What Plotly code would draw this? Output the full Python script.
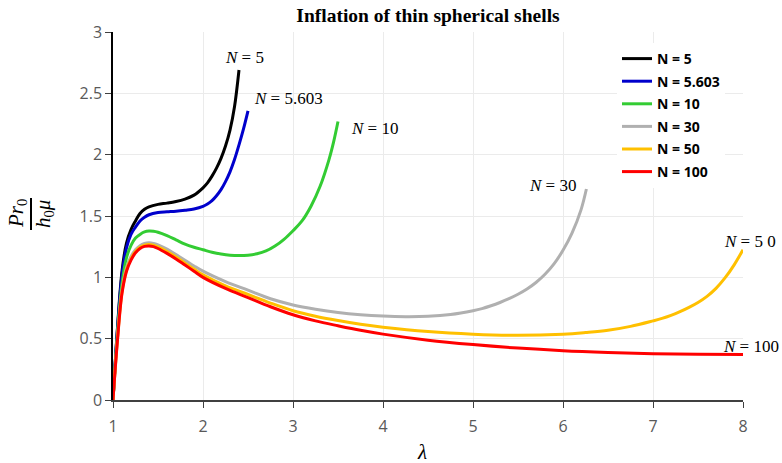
import plotly.graph_objects as go

# ---- data ----
lam_n5 = [1.0, 1.05, 1.1, 1.15, 1.2, 1.25, 1.3, 1.35, 1.4, 1.5, 1.6, 1.7, 1.8, 1.9, 2.0, 2.05, 2.1,
          2.15, 2.2, 2.25, 2.3, 2.35, 2.4]
p_n5 = [0.0, 0.59, 1.05, 1.28, 1.39, 1.46, 1.52, 1.555, 1.575, 1.595, 1.605, 1.618, 1.638, 1.67, 1.73,
        1.77, 1.825, 1.89, 1.97, 2.07, 2.2, 2.39, 2.69]

lam_n5603 = [1.0, 1.05, 1.1, 1.15, 1.2, 1.25, 1.3, 1.35, 1.4, 1.5, 1.6, 1.7, 1.8, 1.9, 2.0, 2.05, 2.1,
             2.15, 2.2, 2.25, 2.3, 2.35, 2.4, 2.45, 2.5]
p_n5603 = [0.0, 0.58, 1.02, 1.24, 1.35, 1.41, 1.46, 1.49, 1.51, 1.528, 1.534, 1.539, 1.547, 1.557, 1.578,
           1.597, 1.625, 1.665, 1.715, 1.78, 1.86, 1.96, 2.08, 2.21, 2.357]

lam_n10 = [1.0, 1.05, 1.1, 1.15, 1.2, 1.25, 1.3, 1.35, 1.4, 1.45, 1.5, 1.6, 1.7, 1.8, 1.9, 2.0, 2.1, 2.2,
           2.3, 2.4, 2.5, 2.6, 2.7, 2.8, 2.9, 3.0, 3.1, 3.2, 3.3, 3.4, 3.45, 3.5]
p_n10 = [0.0, 0.55, 0.95, 1.16, 1.26, 1.32, 1.35, 1.37, 1.377, 1.375, 1.367, 1.34, 1.305, 1.27, 1.245,
         1.225, 1.205, 1.19, 1.18, 1.177, 1.18, 1.192, 1.215, 1.255, 1.31, 1.38, 1.46, 1.58, 1.74,
         1.96, 2.1, 2.27]

lam_n30 = [1.0, 1.05, 1.1, 1.15, 1.2, 1.25, 1.3, 1.35, 1.4, 1.45, 1.5, 1.6, 1.7, 1.8, 1.9, 2.0, 2.25,
           2.5, 2.75, 3.0, 3.25, 3.5, 3.75, 4.0, 4.25, 4.5, 4.75, 5.0, 5.1, 5.2, 5.3, 5.4, 5.5, 5.6,
           5.7, 5.8, 5.9, 6.0, 6.1, 6.2, 6.26]
p_n30 = [0.0, 0.51, 0.9, 1.08, 1.17, 1.225, 1.258, 1.276, 1.282, 1.277, 1.265, 1.23, 1.185, 1.14,
         1.093, 1.05, 0.965, 0.895, 0.825, 0.775, 0.74, 0.713, 0.695, 0.684, 0.679, 0.682, 0.697,
         0.728, 0.745, 0.768, 0.795, 0.826, 0.862, 0.905, 0.958, 1.025, 1.11, 1.22, 1.36, 1.55, 1.72]

lam_n50 = [1.0, 1.05, 1.1, 1.15, 1.2, 1.25, 1.3, 1.35, 1.4, 1.45, 1.5, 1.6, 1.7, 1.8, 1.9, 2.0, 2.25,
           2.5, 2.75, 3.0, 3.25, 3.5, 3.75, 4.0, 4.5, 5.0, 5.5, 6.0, 6.25, 6.5, 6.75, 7.0, 7.1, 7.2,
           7.3, 7.4, 7.5, 7.6, 7.7, 7.8, 7.9, 8.0]
p_n50 = [0.0, 0.5, 0.88, 1.06, 1.152, 1.21, 1.245, 1.263, 1.268, 1.262, 1.248, 1.21, 1.165, 1.115,
         1.067, 1.02, 0.93, 0.86, 0.79, 0.728, 0.683, 0.648, 0.618, 0.594, 0.558, 0.537, 0.528,
         0.537, 0.55, 0.568, 0.6, 0.645, 0.665, 0.69, 0.72, 0.755, 0.795, 0.845, 0.91, 0.995, 1.1,
         1.225]

lam_n100 = [1.0, 1.05, 1.1, 1.15, 1.2, 1.25, 1.3, 1.35, 1.4, 1.45, 1.5, 1.6, 1.7, 1.8, 1.9, 2.0, 2.25,
            2.5, 2.75, 3.0, 3.25, 3.5, 3.75, 4.0, 4.5, 5.0, 5.5, 6.0, 6.5, 7.0, 7.5, 8.0]
p_n100 = [0.0, 0.49, 0.87, 1.05, 1.14, 1.2, 1.235, 1.252, 1.256, 1.25, 1.235, 1.195, 1.15, 1.1, 1.05,
          1.0, 0.91, 0.835, 0.76, 0.695, 0.645, 0.605, 0.568, 0.537, 0.488, 0.452, 0.423, 0.402,
          0.388, 0.378, 0.373, 0.371]

series_names = ["N = 5", "N = 5.603", "N = 10", "N = 30", "N = 50", "N = 100"]
series_colors = ["#000000", "#0000CC", "#33CC33", "#B0B0B0", "#FFC000", "#FF0000"]
series_lam = [lam_n5, lam_n5603, lam_n10, lam_n30, lam_n50, lam_n100]
series_p = [p_n5, p_n5603, p_n10, p_n30, p_n50, p_n100]

label_texts = ["<i>N</i> = 5", "<i>N</i> = 5.603", "<i>N</i> = 10", "<i>N</i> = 30", "<i>N</i> = 5 0", "<i>N</i> = 100"]
label_px = [244, 288, 374, 552, 750, 751]   # label centres (pixels)
label_py = [57, 99, 128, 185, 241, 346]

x_ticks = [1, 2, 3, 4, 5, 6, 7, 8]
y_ticks = [0, 0.5, 1, 1.5, 2, 2.5, 3]

L, R, T, B = 113, 39, 32, 63
W, H = 782, 463
PW, PH = W - L - R, H - T - B


def px(xp):
    return (xp - L) / PW


def py(yp):
    return (H - B - yp) / PH


fig = go.Figure()
for i, (name, color, xs, ys) in enumerate(zip(series_names, series_colors, series_lam, series_p)):
    fig.add_trace(go.Scatter(x=xs, y=ys, mode="lines", name=name, legendgroup=f"g{i}",
                             line=dict(color=color, width=3, shape="spline", smoothing=1.0)))

tick_font = dict(family="Open Sans", size=16, color="#595959")
fig.update_layout(
    width=W, height=H,
    margin=dict(l=L, r=R, t=T, b=B),
    paper_bgcolor="white", plot_bgcolor="white",
    title=dict(text="<b>Inflation of thin spherical shells</b>", x=0.5, xref="paper", xanchor="center",
               y=1 - 15 / H, yanchor="middle",
               font=dict(family="Liberation Serif", size=19.5, color="black")),
    showlegend=True,
    legend=dict(x=px(617), y=py(43), xanchor="left", yanchor="top", bgcolor="white",
                font=dict(family="Open Sans", size=14, color="black", weight="bold"),
                tracegroupgap=1.4, itemwidth=30),
    xaxis=dict(range=[1, 8], tickvals=x_ticks, showgrid=True, gridcolor="#EBEBEB", gridwidth=1,
               showline=True, linecolor="#404040", linewidth=1.5, ticks="outside", ticklen=6,
               tickcolor="#404040", tickfont=tick_font, zeroline=False, ticklabelstandoff=5),
    yaxis=dict(range=[0, 3], tickvals=y_ticks, showgrid=True, gridcolor="#EBEBEB", gridwidth=1,
               showline=True, linecolor="black", linewidth=1.5, ticks="outside", ticklen=6,
               tickcolor="#404040", tickfont=tick_font, zeroline=False),
)

for t, lx, ly in zip(label_texts, label_px, label_py):
    fig.add_annotation(x=px(lx), y=py(ly), xref="paper", yref="paper", text=t, showarrow=False,
                       xanchor="center", yanchor="middle",
                       font=dict(family="Liberation Serif", size=17, color="black"))

# axis titles
fig.add_annotation(x=px(422), y=py(452), xref="paper", yref="paper",
                   text="<i>λ</i>", showarrow=False, xanchor="center", yanchor="middle",
                   font=dict(family="Liberation Serif", size=21, color="black"))
fig.add_annotation(x=px(17), y=py(213), xref="paper", yref="paper",
                   text="<i>Pr</i><sub>0</sub>", showarrow=False, textangle=-90,
                   xanchor="center", yanchor="middle",
                   font=dict(family="Liberation Serif", size=21, color="black"))
fig.add_annotation(x=px(44), y=py(214), xref="paper", yref="paper",
                   text="<i>h</i><sub>0</sub><i>μ</i>", showarrow=False, textangle=-90,
                   xanchor="center", yanchor="middle",
                   font=dict(family="Liberation Serif", size=21, color="black"))
fig.add_shape(type="line", xref="paper", yref="paper",
              x0=px(31), x1=px(31), y0=py(198), y1=py(230),
              line=dict(color="black", width=2))

fig.write_html("out.html")
